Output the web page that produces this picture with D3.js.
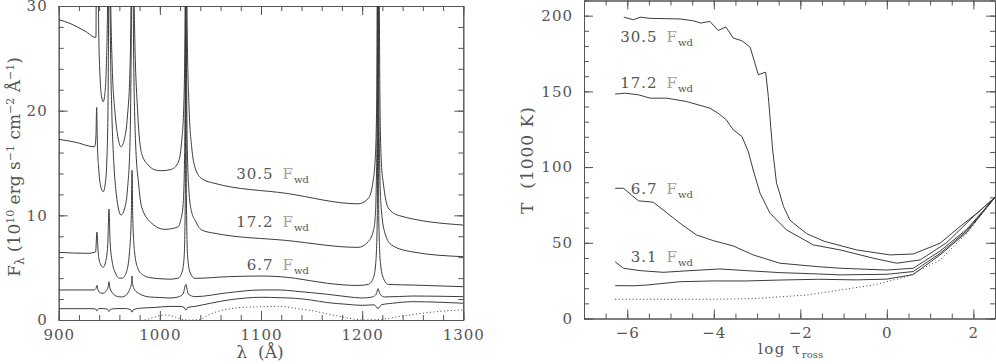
<!DOCTYPE html>
<html>
<head>
<meta charset="utf-8">
<script src="https://cdn.jsdelivr.net/npm/d3@7"></script>
<style>
body { margin: 0; background: #fff; }
svg text { font-family: "DejaVu Serif", serif; }
</style>
</head>
<body>
<svg id="chart" width="996" height="364"></svg>
<script>
// ---- left panel: model spectra, [wavelength (A), flux] ----
const spec305 = [[900,28.7],[912,28.3],[926,27.6],[936.8,27.0],[937.5,40],[938.3,40],[939.5,28],[941,23],[942.5,21.3],[944,20.85],[945.5,21.5],[947,24],[948.3,30],[949.2,40],[950.3,40],[951.5,30],[953,24],[955.5,20],[958,17.8],[961.6,16.55],[965,17.3],[968,19.5],[970.5,24],[971.8,32],[972.5,40],[973.3,40],[975,28],[978,20],[982,15.9],[988.6,14.8],[995,14.35],[1001.8,14.26],[1011.7,14.4],[1018.3,15.1],[1021.5,17],[1023.5,20],[1024.8,27],[1025.5,40],[1026.2,40],[1027,28],[1029,20],[1031.5,16.5],[1034.7,14.6],[1041.4,13.5],[1054.5,13.05],[1125,12.1],[1196,11.1],[1206,11.6],[1211,13.4],[1213,15.5],[1214.4,21],[1215.3,40],[1216.2,40],[1217.6,21],[1219,15],[1220.9,13.1],[1225.9,10.7],[1235.7,10.0],[1300,9.07]];
const spec172 = [[900,17.26],[916,17.0],[935.5,16.55],[936.8,17.5],[937.5,20.3],[938.2,17],[939.5,14.5],[941.5,12.8],[944,12.25],[946,13.0],[947.5,15],[948.7,20],[949.4,30],[949.9,40],[950.3,40],[951,28],[952.5,20],[954.5,15],[957,12],[961.6,10.03],[965,10.6],[968,12.5],[970.5,17],[971.8,28],[972.5,40],[973.2,40],[974,26],[976,17],[979,13],[982,10.8],[992,9.24],[1005,8.66],[1018,8.9],[1021,9.7],[1023,11],[1024.5,16],[1025.4,30],[1025.7,40],[1026.1,30],[1027,17],[1029,12],[1031.5,10.3],[1034.7,9.55],[1041.4,8.6],[1054.5,8.28],[1125,7.6],[1196,6.94],[1206,7.48],[1211,8.5],[1212.7,9.55],[1214,13],[1215,22],[1215.7,40],[1216.4,22],[1217.5,14],[1219,10.5],[1222.6,8.28],[1229.2,7.16],[1250,6.5],[1300,6.05]];
const spec67 = [[900,6.46],[929,6.37],[936.5,6.5],[937.8,8.4],[939,6.5],[941,5.4],[944,5.05],[946.5,5.6],[948.5,7.2],[949.7,10.6],[950.8,7.5],[953,5.5],[956,4.5],[960,4.0],[963,4.0],[967,4.6],[970,6.5],[971.8,10],[972.5,14.3],[973.2,10],[975,6.5],[978,5.0],[982,4.4],[990,4.05],[1000,3.95],[1010,3.9],[1018,4.0],[1022,4.6],[1024,6],[1025.2,12],[1025.7,40],[1026.2,12],[1027.5,6],[1030,4.5],[1034.7,3.98],[1067.7,4.14],[1100,4.2],[1119,4.14],[1134,3.98],[1166,3.5],[1196,3.3],[1206,3.4],[1211,4.0],[1213.5,5.5],[1215,10],[1215.7,40],[1216.4,10],[1218,5.5],[1221,4.0],[1225.9,3.4],[1250,3.34],[1300,3.18]];
const spec31 = [[900,2.87],[935,2.87],[936.8,3.0],[937.8,3.3],[938.8,2.9],[941,2.6],[944,2.55],[947,2.8],[949,3.2],[949.7,3.66],[950.5,3.1],[953,2.6],[958,2.25],[962,2.2],[967,2.4],[970,2.9],[972,3.5],[972.5,4.2],[973,3.5],[975,2.9],[980,2.5],[990,2.2],[1000,2.15],[1010,2.1],[1018,2.2],[1023,2.5],[1025.7,3.4],[1028,2.5],[1034.7,2.23],[1067.7,2.61],[1100,2.87],[1119,2.87],[1134,2.75],[1166,2.45],[1185,2.23],[1200,2.1],[1210,2.2],[1214,2.5],[1215.7,3.0],[1217.5,2.5],[1222,2.2],[1250,2.29],[1300,2.23]];
const specLow = [[900,1.08],[935,1.08],[937,1.0],[937.8,0.85],[938.6,1.0],[940,1.1],[948,1.05],[949.7,0.8],[951,1.0],[955,1.08],[965,1.1],[971,1.0],[972.5,0.75],[974,1.0],[980,1.12],[995,1.2],[1010,1.3],[1020,1.3],[1024,1.2],[1025.7,0.95],[1027.5,1.2],[1034.7,1.3],[1050,1.6],[1067.7,1.91],[1085,2.1],[1100,2.17],[1119,2.13],[1134,2.07],[1150,1.9],[1166,1.66],[1185,1.5],[1200,1.4],[1212,1.45],[1215.7,1.1],[1219,1.45],[1230,1.6],[1250,1.75],[1300,1.6]];
const specDot = [[985,0],[992,0.2],[1000,0.42],[1006,0.48],[1013,0.35],[1022,0.05],[1030,0],[1040,0.05],[1048,0.48],[1067.7,1.05],[1085,1.22],[1100,1.27],[1119,1.3],[1134,1.12],[1150,0.9],[1166,0.57],[1180,0.3],[1193,0.07],[1200,0],[1222,0.1],[1235,0.3],[1259,0.64],[1280,0.85],[1300,0.96]];

// ---- right panel: temperature structure, [log tau_ross, T (1000 K)] ----
const temp305 = [[-6.08,199],[-5.86,197.3],[-5.7,199],[-5.47,198.2],[-4.78,197.8],[-4.47,196.6],[-4.3,195.1],[-4.09,196.2],[-3.9,190.2],[-3.72,192.5],[-3.55,185.2],[-3.35,183.4],[-3.16,179.2],[-2.97,161],[-2.8,162.7],[-2.74,146.6],[-2.64,111.4],[-2.55,89.4],[-2.47,82],[-2.39,74],[-2.24,65],[-2.16,63],[-1.85,56],[-1.45,51],[-0.7,45.3],[0.07,42],[0.61,42.6],[1.23,49.7],[1.69,60.7],[2.08,69.5],[2.5,80]];
const temp172 = [[-6.28,148.2],[-6.05,148.8],[-5.74,147.7],[-5.47,145.5],[-5.09,145.5],[-4.63,143.3],[-4.09,138.9],[-3.9,135.6],[-3.71,131.2],[-3.55,124.6],[-3.35,120.2],[-3.2,110],[-3.09,98.1],[-2.93,82.7],[-2.7,69.5],[-2.32,58.5],[-1.85,51],[-1.7,48.6],[-1.08,45.3],[-0.31,39.8],[0.23,36.5],[0.77,38.7],[1.38,50],[2.0,67.3],[2.5,80]];
const temp67 = [[-6.28,86],[-6.09,86],[-5.74,77.7],[-5.4,76.8],[-5.17,71.7],[-4.78,62.9],[-4.4,55.2],[-4.01,51.4],[-3.55,47.9],[-3.09,42],[-2.47,36.5],[-1.58,34.2],[-1.08,33.2],[0,32],[0.61,33.2],[1.23,44.5],[1.85,59],[2.5,80]];
const temp31 = [[-6.28,37.5],[-6.09,33.2],[-5.7,31.6],[-5.17,30.5],[-4.55,31.6],[-3.86,32.7],[-3.24,31.6],[-2.47,30.3],[-1.58,29.4],[-1.08,28.8],[0,29.2],[0.61,31],[1.23,43],[1.85,58],[2.5,80]];
const tempLow = [[-6.28,21.7],[-5.85,21.6],[-5.55,22.1],[-4.78,24.3],[-4.01,24.8],[-3.24,24.8],[-2.47,25.4],[-1.58,25.9],[-0.7,25.5],[0,26],[0.61,29],[1.23,42],[1.85,57],[2.5,80]];
const tempDot = [[-6.28,12.7],[-4,12.7],[-3.1,13.1],[-1.85,15.5],[-1.08,18.8],[-0.31,22.1],[0.46,27.6],[1.23,38.7],[1.85,56.3],[2.5,80]];

const specLabels = [["30.5",179],["17.2",226.7],["6.7",270]];
const tempLabels = [["30.5",42],["17.2",88],["6.7",194],["3.1",262]];

const lineColor = "#3c3c3c";
const axisColor = "#555";

let svg = d3.select("#chart");

// draws a boxed frame with inward major/minor ticks on all four sides
function drawFrame(x, y, xMajor, xMinor, yMajor, yMinor) {
    let [x0, x1] = x.range();
    let [y0, y1] = y.range();
    let fmt = d3.format("d");
    let g = svg.append("g").attr("color", axisColor);
    g.append("g").attr("transform", `translate(0,${y0})`)
        .call(d3.axisBottom(x).tickValues(xMajor).tickSizeInner(-9).tickSizeOuter(0).tickPadding(9)
            .tickFormat(d => fmt(d).replace("-", "−")));
    g.append("g").attr("transform", `translate(0,${y0})`)
        .call(d3.axisBottom(x).tickValues(xMinor).tickSizeInner(-5).tickSizeOuter(0).tickFormat(""));
    g.append("g").attr("transform", `translate(0,${y1})`)
        .call(d3.axisTop(x).tickValues(xMajor).tickSizeInner(-9).tickSizeOuter(0).tickFormat(""));
    g.append("g").attr("transform", `translate(0,${y1})`)
        .call(d3.axisTop(x).tickValues(xMinor).tickSizeInner(-5).tickSizeOuter(0).tickFormat(""));
    g.append("g").attr("transform", `translate(${x0},0)`)
        .call(d3.axisLeft(y).tickValues(yMajor).tickSizeInner(-9).tickSizeOuter(0).tickPadding(11).tickFormat(fmt));
    g.append("g").attr("transform", `translate(${x0},0)`)
        .call(d3.axisLeft(y).tickValues(yMinor).tickSizeInner(-5).tickSizeOuter(0).tickFormat(""));
    g.append("g").attr("transform", `translate(${x1},0)`)
        .call(d3.axisRight(y).tickValues(yMajor).tickSizeInner(-9).tickSizeOuter(0).tickFormat(""));
    g.append("g").attr("transform", `translate(${x1},0)`)
        .call(d3.axisRight(y).tickValues(yMinor).tickSizeInner(-5).tickSizeOuter(0).tickFormat(""));
    g.selectAll("text").attr("font-family", "DejaVu Serif").attr("font-size", 15)
        .attr("letter-spacing", 1).attr("fill", axisColor);
    g.selectAll("path, line").attr("stroke-width", 1);
}

function drawCurves(id, x, y, curves, dotted, curveType) {
    let [x0, x1] = x.range();
    let [y0, y1] = y.range();
    svg.append("clipPath").attr("id", id)
        .append("rect").attr("x", x0).attr("y", y1).attr("width", x1 - x0).attr("height", y0 - y1);
    let line = d3.line().x(d => x(d[0])).y(d => y(d[1])).curve(curveType);
    let g = svg.append("g").attr("clip-path", `url(#${id})`)
        .attr("fill", "none").attr("stroke", lineColor).attr("stroke-width", 1);
    g.selectAll("path.solid").data(curves).join("path").attr("class", "solid").attr("d", line);
    g.append("path").attr("d", line(dotted)).attr("stroke-dasharray", "1,2.5").attr("stroke-width", 1);
}

function fwdLabel(xEnd, yBase, num) {
    let t = svg.append("text").attr("x", xEnd).attr("y", yBase)
        .attr("text-anchor", "end").attr("font-size", 15).attr("letter-spacing", 1);
    t.append("tspan").attr("fill", "#555").text(num);
    t.append("tspan").attr("fill", "#a0a0a0").attr("dx", 9).text("F");
    t.append("tspan").attr("fill", "#555").attr("font-size", 10).attr("dy", 4).attr("letter-spacing", 0).text("wd");
}

// ---------- left panel ----------
let xL = d3.scaleLinear().domain([900, 1300]).range([58.7, 463.3]);
let yL = d3.scaleLinear().domain([0, 30]).range([320, 6]);
drawFrame(xL, yL, d3.range(900, 1301, 100), d3.range(900, 1301, 20), [0, 10, 20, 30], d3.range(0, 31, 2));
drawCurves("clipL", xL, yL, [spec305, spec172, spec67, spec31, specLow], specDot, d3.curveMonotoneX);
specLabels.forEach(d => fwdLabel(309, d[1], d[0]));

let ttlL = svg.append("text").attr("transform", "translate(20,167) rotate(-90)")
    .attr("text-anchor", "middle").attr("font-size", 17).attr("fill", "#555");
ttlL.append("tspan").text("F");
ttlL.append("tspan").attr("font-size", 12).attr("dy", 4).text("λ");
ttlL.append("tspan").attr("dy", -4).text(" (10");
ttlL.append("tspan").attr("font-size", 11).attr("dy", -6).text("10");
ttlL.append("tspan").attr("dy", 6).text(" erg s");
ttlL.append("tspan").attr("font-size", 11).attr("dy", -6).text("−1");
ttlL.append("tspan").attr("dy", 6).text(" cm");
ttlL.append("tspan").attr("font-size", 11).attr("dy", -6).text("−2");
ttlL.append("tspan").attr("dy", 6).text(" Å");
ttlL.append("tspan").attr("font-size", 11).attr("dy", -6).text("−1");
ttlL.append("tspan").attr("dy", 6).text(")");

svg.append("text").attr("x", 260).attr("y", 358).attr("text-anchor", "middle")
    .attr("font-size", 17).attr("fill", "#555").style("white-space", "pre").text("λ  (Å)");

// ---------- right panel ----------
let xR = d3.scaleLinear().domain([-7, 2.5]).range([584, 995]);
let yR = d3.scaleLinear().domain([0, 210]).range([318.5, 0.5]);
drawFrame(xR, yR, [-6, -4, -2, 0, 2], d3.range(-7, 2.51, 0.5), d3.range(0, 201, 50), d3.range(0, 211, 10));
drawCurves("clipR", xR, yR, [temp305, temp172, temp67, temp31, tempLow], tempDot, d3.curveLinear);
tempLabels.forEach(d => fwdLabel(693, d[1], d[0]));

svg.append("text").attr("transform", "translate(533,160) rotate(-90)")
    .attr("text-anchor", "middle").attr("font-size", 17).attr("fill", "#555")
    .attr("letter-spacing", 1).style("white-space", "pre").text("T  (1000 K)");

let ttlR = svg.append("text").attr("x", 758).attr("y", 354).attr("font-size", 15)
    .attr("letter-spacing", 1.5).attr("fill", "#555");
ttlR.append("tspan").text("log τ");
ttlR.append("tspan").attr("font-size", 10).attr("letter-spacing", 0).attr("dy", 4).text("ross");
</script>
</body>
</html>
